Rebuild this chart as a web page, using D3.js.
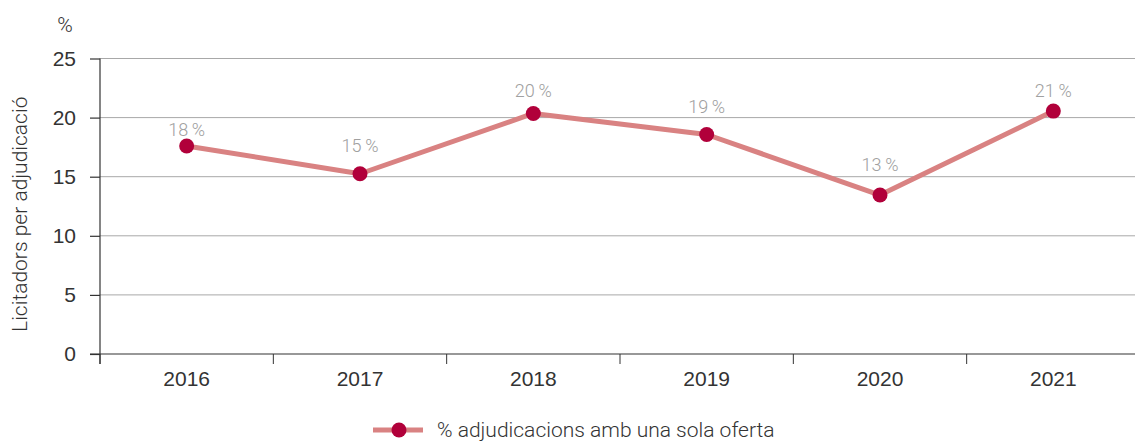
<!DOCTYPE html>
<html>
<head>
<meta charset="utf-8">
<script src="https://cdn.jsdelivr.net/npm/d3@7"></script>
<style>
  html, body { margin: 0; padding: 0; background: #fff; }
  svg { display: block; font-family: Roboto, "Liberation Sans", Arial, sans-serif; font-weight: 300; }
</style>
</head>
<body>
<svg id="chart" width="1135" height="441"></svg>
<script>
// Share of awards that received a single bid, by year
const years = ["2016", "2017", "2018", "2019", "2020", "2021"];
const singleBidShare = [17.6, 15.25, 20.35, 18.57, 13.45, 20.55];
const yTicks = [0, 5, 10, 15, 20, 25];
// vertical gap between each point and its value label (px)
const labelGap = [10, 22, 16, 22, 24, 14];
const seriesName = "% adjudicacions amb una sola oferta";
const yTitle = "Licitadors per adjudicació";
const yUnit = "%";

const svg = d3.select("#chart");
const plotLeft = 100, plotRight = 1140, plotTop = 58.5, plotBottom = 354;
const tickLen = 10;
const fontSize = "21px";

const x = d3.scaleBand().domain(years).range([plotLeft, plotRight]);
const y = d3.scaleLinear().domain([0, 25]).range([plotBottom, plotTop]);

const textColor = "#333";

// gridlines
svg.append("g")
  .selectAll("line")
  .data(yTicks.filter(d => d > 0))
  .join("line")
  .attr("x1", plotLeft).attr("x2", 1135)
  .attr("y1", d => y(d)).attr("y2", d => y(d))
  .attr("stroke", "#a8a8a8").attr("stroke-width", 1);

// y axis
const yAxis = svg.append("g")
  .attr("transform", `translate(${plotLeft},0)`)
  .call(d3.axisLeft(y).tickValues(yTicks).tickSize(tickLen).tickPadding(14).tickSizeOuter(0));
yAxis.select(".domain").attr("d", `M0,${y(25)}V${plotBottom + tickLen}`);

// x axis
const xAxis = svg.append("g")
  .attr("transform", `translate(0,${plotBottom})`)
  .call(d3.axisBottom(x).tickSize(0).tickPadding(17).tickSizeOuter(0));
xAxis.select(".domain").attr("d", `M${plotLeft - tickLen},0H${plotRight}`);
// tick marks on the band boundaries
xAxis.append("g")
  .selectAll("line")
  .data(years)
  .join("line")
  .attr("x1", d => x(d)).attr("x2", d => x(d))
  .attr("y1", 0).attr("y2", tickLen)
  .attr("stroke", textColor);

svg.selectAll(".domain, .tick line").attr("stroke", textColor).attr("stroke-width", 1.2);
svg.selectAll(".tick text")
  .attr("fill", textColor)
  .style("font-size", fontSize);
xAxis.selectAll(".tick text").attr("dy", "0.71em");

// unit and axis title
svg.append("text")
  .attr("x", 65).attr("y", 32)
  .attr("text-anchor", "middle")
  .attr("fill", textColor)
  .style("font-size", fontSize)
  .text(yUnit);

svg.append("text")
  .attr("transform", `translate(27,${(y(25) + plotBottom) / 2 + 8}) rotate(-90)`)
  .attr("text-anchor", "middle")
  .attr("fill", textColor)
  .style("font-size", fontSize)
  .text(yTitle);

// series
const cx = (d, i) => x(years[i]) + x.bandwidth() / 2;
const lineColor = "#d98282";
const dotColor = "#b1003a";

const line = d3.line()
  .x((d, i) => cx(d, i))
  .y(d => y(d));

svg.append("path")
  .datum(singleBidShare)
  .attr("d", line)
  .attr("fill", "none")
  .attr("stroke", lineColor)
  .attr("stroke-width", 5)
  .attr("stroke-linejoin", "round");

svg.append("g")
  .selectAll("circle")
  .data(singleBidShare)
  .join("circle")
  .attr("cx", cx)
  .attr("cy", d => y(d))
  .attr("r", 7.5)
  .attr("fill", dotColor);

const fmt = d3.format(".0f");
svg.append("g")
  .selectAll("text")
  .data(singleBidShare)
  .join("text")
  .attr("x", cx)
  .attr("y", (d, i) => y(d) - labelGap[i])
  .attr("text-anchor", "middle")
  .attr("fill", "#a0a0a0")
  .style("font-size", "18px")
  .text(d => fmt(d) + "\u2009%");

// legend
const legend = svg.append("g").attr("transform", "translate(373,430)");
legend.append("line")
  .attr("x1", 0).attr("x2", 50)
  .attr("stroke", lineColor).attr("stroke-width", 5);
legend.append("circle")
  .attr("cx", 26).attr("r", 7.5)
  .attr("fill", dotColor);
legend.append("text")
  .attr("x", 64).attr("dy", "0.35em")
  .attr("fill", textColor)
  .style("font-size", fontSize)
  .text(seriesName);
</script>
</body>
</html>
